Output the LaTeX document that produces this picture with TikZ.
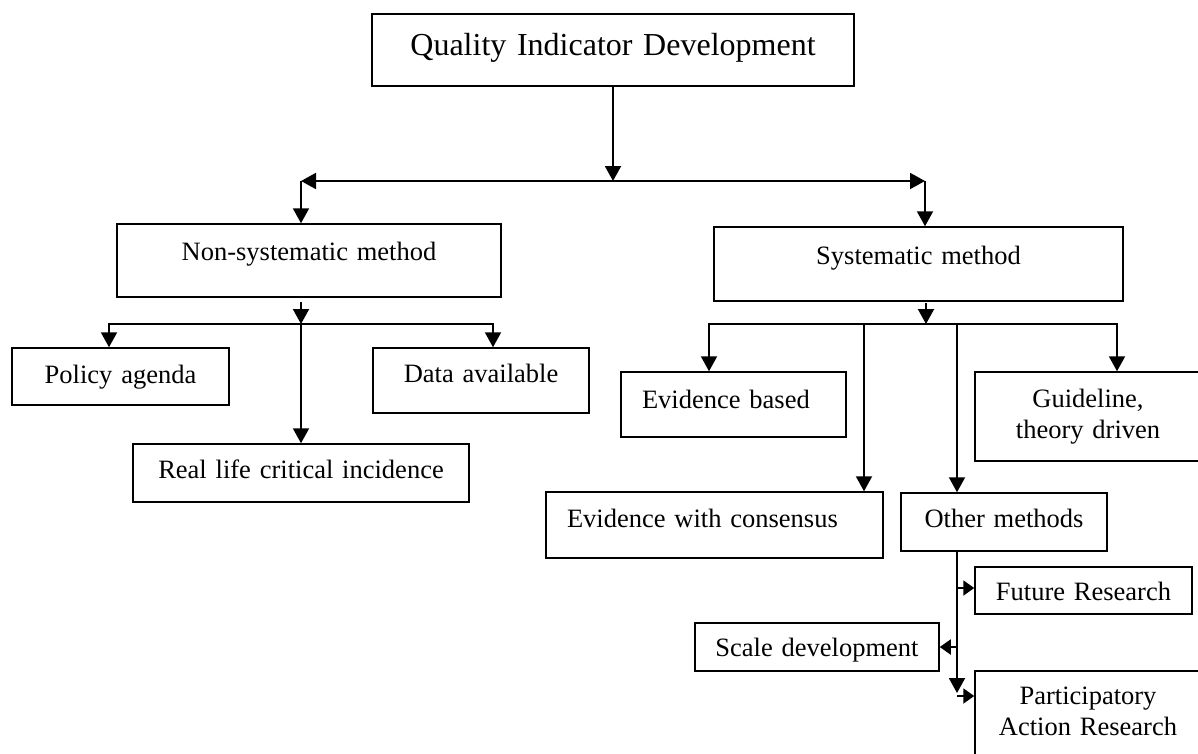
\documentclass[tikz,border=0pt]{standalone}
\usepackage{fontspec}
\setmainfont{Liberation Serif}
\usetikzlibrary{arrows.meta}
\newcommand\fsnorm{\fontsize{26.5}{31}\selectfont}
\newcommand\fstitle{\fontsize{32}{38}\selectfont}
\tikzset{
  box/.style={draw, line width=1.5pt, inner sep=0pt, align=center, font=\fsnorm},
  conn/.style={line width=2pt},
  arr/.style={conn, -{Triangle[length=15pt,width=16pt]}},
  sarr/.style={conn, -{Triangle[length=11pt,width=15pt]}},
}
\begin{document}
\begin{tikzpicture}[x=1pt, y=-1pt]
\useasboundingbox (0,0) rectangle (1198,753);
\clip (0,0) rectangle (1198,753);

% boxes
\node[box, font=\fstitle, text width=482pt, text height=41pt, text depth=31pt] (top) at (613,50) {Quality Indicator Development};
\node[box, text width=384pt, text height=36pt, text depth=37pt] (nonsys) at (309,260.5) {Non-systematic method};
\node[box, text width=409pt, text height=37pt, text depth=37pt] (sys) at (918.5,264) {Systematic method};
\node[box, text width=217pt, text height=35pt, text depth=22pt] (policy) at (120.5,376.5) {Policy agenda};
\node[box, text width=216pt, text height=34pt, text depth=31pt] (data) at (481,380.5) {Data available};
\node[box, text width=336pt, text height=34pt, text depth=24pt] (real) at (301,473) {Real life critical incidence};
\node[box, align=left, text width=225pt, text height=36pt, text depth=29pt] (evb) at (733.5,404.5) {\hspace*{21pt}Evidence based};
\node[box, align=left, text width=337pt, text height=35pt, text depth=31pt] (evc) at (714.5,525) {\hspace*{21pt}Evidence with consensus};
\node[box, text width=226pt, text height=35pt, text depth=54pt] (guide) at (1088,416.5) {Guideline,\\theory driven};
\node[box, text width=206pt, text height=34pt, text depth=24pt] (other) at (1004,522) {Other methods};
\node[box, text width=217pt, text height=33pt, text depth=14pt] (future) at (1083.5,590.5) {Future Research};
\node[box, text width=244pt, text height=33pt, text depth=15pt] (scale) at (817,647) {Scale development};
\node[box, text width=226pt, text height=33pt, text depth=56pt] (part) at (1088,715.5) {Participatory\\Action Research};

% junction points
\coordinate (j0) at (613,181);
\coordinate (jl) at (301,181);
\coordinate (jr) at (925,181);
\coordinate (jn) at (301,324);
\coordinate (jnl) at (109,324);
\coordinate (jnr) at (493,324);
\coordinate (js) at (926,324);
\coordinate (jsl) at (709,324);
\coordinate (jsr) at (1117,324);
\coordinate (jsa) at (864,324);
\coordinate (jsb) at (957,324);
\coordinate (jo) at (957,693);
\coordinate (jf) at (957,588);
\coordinate (jsc) at (957,647);
\coordinate (jp) at (957,696);

% top level
\draw[arr] (top.south) -- (j0);
\draw[arr] (j0) -- (jl);
\draw[arr] (j0) -- (jr);
\draw[arr] (jl) -- (jl |- nonsys.north);
\draw[arr] (jr) -- (jr |- sys.north);

% non-systematic branch
\draw[arr, shorten <=4pt] (jn |- nonsys.south) -- (jn);
\draw[arr] (jn) -| (jnl |- policy.north);
\draw[arr] (jn) -| (jnr |- data.north);
\draw[arr] (jn) -- (jn |- real.north);

% systematic branch
\draw[arr, shorten <=1pt] (js |- sys.south) -- (js);
\draw[arr] (js) -| (jsl |- evb.north);
\draw[arr] (js) -| (jsr |- guide.north);
\draw[arr] (jsa) -- (jsa |- evc.north);
\draw[arr] (jsb) -- (jsb |- other.north);

% other methods branch
\draw[arr] (jsb |- other.south) -- (jo);
\draw[sarr] (jf) -- (jf -| future.west);
\draw[sarr] (jsc) -- (jsc -| scale.east);
\draw[sarr] (jp) -- (jp -| part.west);
\end{tikzpicture}
\end{document}
